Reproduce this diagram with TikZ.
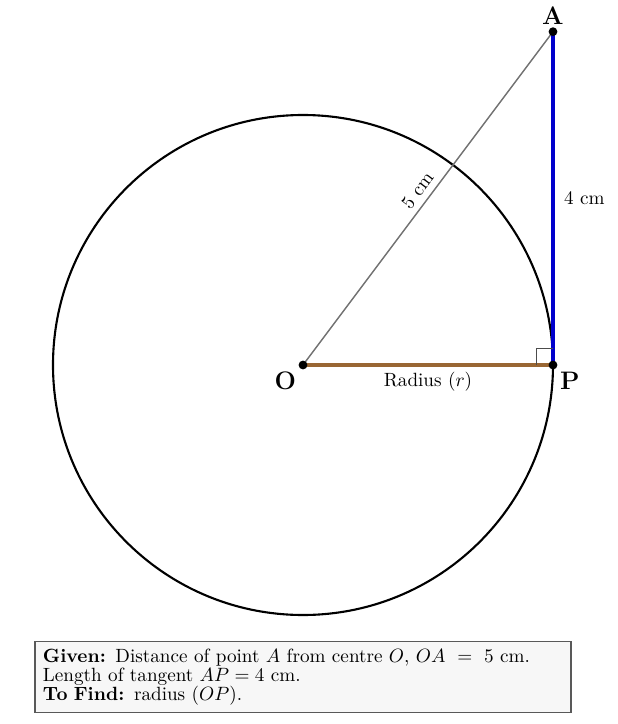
\documentclass[tikz,border=0pt]{standalone}
\usetikzlibrary{positioning}
\begin{document}
\begin{tikzpicture}[x=1.66667cm,y=1.66667cm,
	pt_node/.style={circle,fill=black,inner sep=0pt,minimum size=5pt},
	pt_label/.style={font=\Large\bfseries},
	len_label/.style={black,font=\fontsize{10.9}{13}\selectfont},
	circ_line/.style={black,very thick},
	hyp_line/.style={black!55,thick},
	tan_line/.style={blue!80!black,line width=2pt},
	rad_line/.style={brown!80!black,line width=1.8pt},
	info_box/.style={draw=black!65,fill=black!3,line width=0.6pt,font=\fontsize{10.9}{10.8}\selectfont,text width=10.4cm,align=left,inner xsep=0.16cm,inner ysep=4pt}]
		
		\useasboundingbox (-3.636,-4.308) rectangle (3.78,4.38);
		
		\coordinate (O) at (0,0);
		\coordinate (P) at (3,0);
		\coordinate (A) at (3,4);
		
		\draw[circ_line] (O) circle (3);
		
		\draw[hyp_line] (O) -- node[midway,sloped,above,len_label] {5 cm} (A);
		\draw[tan_line] (A) -- node[midway,right,len_label,xshift=2pt] {4 cm} (P);
		\draw[rad_line] (O) -- node[midway,below,len_label] {Radius ($r$)} (P);
		\draw[black!70,thin] ([xshift=-0.333cm]P) -- ++(0,0.333cm) -- ++(0.333cm,0);
		
		\node[pt_node] (o) at (O) {};
		\node[pt_node] (p) at (P) {};
		\node[pt_node] (a) at (A) {};
		
		\node[pt_label,below left=-2pt of o] (o_lbl) {O};
		\node[pt_label,below right=-2pt of p] (p_lbl) {P};
		\node[pt_label,above=-2pt of a] (a_lbl) {A};
		
		\node[info_box] (info) at (0,-3.744) {\parbox{9.74cm}{\textbf{Given:} Distance of point $A$ from centre $O$, $OA = 5$ cm.\linebreak Length of tangent $AP = 4$ cm.\\ \textbf{To Find:} radius ($OP$).}};
		\end{tikzpicture}
\end{document}
